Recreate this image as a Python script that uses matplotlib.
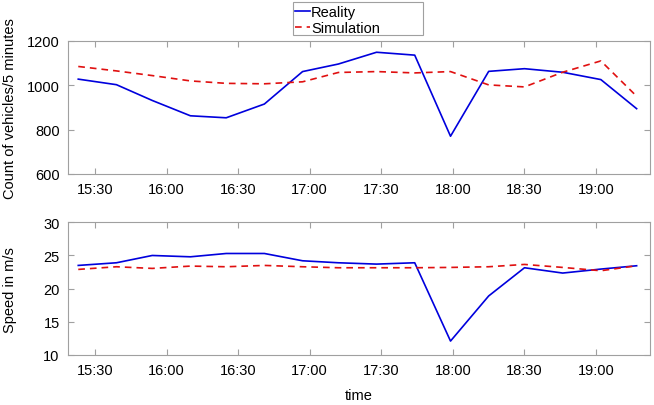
import matplotlib.pyplot as plt
from matplotlib.patches import Rectangle
from matplotlib.ticker import FuncFormatter, MultipleLocator

plt.rcParams['font.family'] = ['Liberation Sans', 'DejaVu Sans']

# sample times (HH:MM)
times = ['15:23', '15:39', '15:54', '16:10', '16:25', '16:41', '16:57', '17:12',
         '17:28', '17:44', '17:59', '18:15', '18:30', '18:46', '19:02', '19:17']

count_reality = [1027, 1002, 931, 862, 853, 915, 1061, 1095,
                 1148, 1135, 770, 1062, 1074, 1058, 1025, 894]
count_sim = [1084, 1064, 1043, 1019, 1008, 1006, 1015, 1057,
             1061, 1055, 1061, 1001, 992, 1058, 1109, 950]

speed_reality = [23.5, 23.9, 25.0, 24.8, 25.3, 25.3, 24.2, 23.9,
                 23.7, 23.9, 12.1, 18.9, 23.15, 22.35, 22.95, 23.45]
speed_sim = [22.9, 23.3, 23.05, 23.4, 23.3, 23.5, 23.3, 23.15,
             23.15, 23.15, 23.2, 23.3, 23.65, 23.2, 22.7, 23.45]


def to_min(s):
    h, m = s.split(':')
    return int(h) * 60 + int(m)


def fmt_time(v, pos):
    v = int(round(v))
    return '%d:%02d' % (v // 60, v % 60)


x = [to_min(t) for t in times]
frame = '#a0a0a0'
W, H = 654, 406

fig = plt.figure(figsize=(6.54, 4.06), dpi=100)
ax1 = fig.add_axes([68 / W, 1 - 175 / H, 582 / W, 133.3 / H])
ax2 = fig.add_axes([68 / W, 1 - 356 / H, 582 / W, 132.7 / H])

l1, = ax1.plot(x, count_reality, color='#0000dd', lw=1.2)
l2, = ax1.plot(x, count_sim, color='#e01010', lw=1.2, ls=(0, (4, 3)))
ax2.plot(x, speed_reality, color='#0000dd', lw=1.2)
ax2.plot(x, speed_sim, color='#e01010', lw=1.2, ls=(0, (4, 3)))

ax1.set_ylim(600, 1200)
ax1.yaxis.set_major_locator(MultipleLocator(200))
ax2.set_ylim(10, 30)
ax2.yaxis.set_major_locator(MultipleLocator(5))

for ax in (ax1, ax2):
    ax.set_xlim(to_min('15:18') + 0.7, to_min('19:22') + 0.6)
    ax.xaxis.set_major_locator(MultipleLocator(30))
    ax.xaxis.set_major_formatter(FuncFormatter(fmt_time))
    ax.tick_params(direction='in', top=True, right=True, color=frame,
                   labelsize=10.5, length=4, pad=6, width=0.8)
    for sp in ax.spines.values():
        sp.set_color(frame)
        sp.set_linewidth(0.8)

ax1.set_ylabel('Count of vehicles/5 minutes', fontsize=10.5)
ax2.set_ylabel('Speed in m/s', fontsize=10.5)
ax1.yaxis.set_label_coords(-0.088, 0.5)
ax2.yaxis.set_label_coords(-0.088, 0.5)
ax2.set_xlabel('time', fontsize=10.5, labelpad=8)

leg = fig.legend([l1, l2], ['Reality', 'Simulation'], loc='upper left',
                 bbox_to_anchor=(295 / W, 1 - 6.5 / H), fontsize=10.5,
                 frameon=False, handlelength=1.0,
                 handletextpad=0.1, borderpad=0, labelspacing=0.1,
                 borderaxespad=0)
fig.patches.append(Rectangle((292.7 / W, 1 - 35.7 / H), 130 / W, 33 / H,
                             transform=fig.transFigure, fill=False,
                             edgecolor=frame, lw=0.8))

fig.savefig('out.png', dpi=100)
